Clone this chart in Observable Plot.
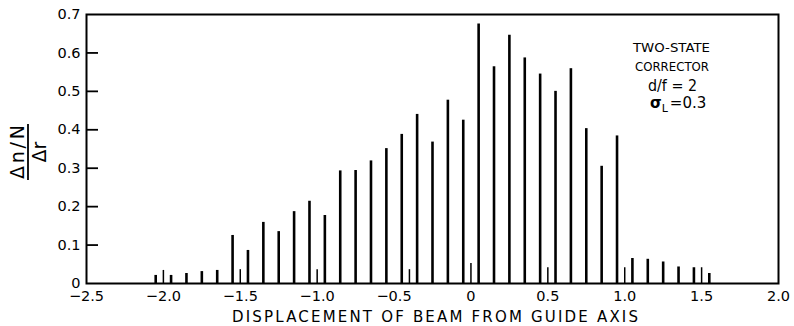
<!DOCTYPE html>
<html>
<head>
<meta charset="utf-8">
<script src="https://cdn.jsdelivr.net/npm/d3@7"></script>
<script src="https://cdn.jsdelivr.net/npm/@observablehq/plot@0.6"></script>
<style>
  html, body { margin: 0; padding: 0; background: #fff; }
  #chart svg { display: block; }
</style>
</head>
<body>
<div id="chart"></div>
<script>
// Main (thick) bars: displacement centres and Δn/N/Δr values
const mainX = [-2.05, -1.95, -1.85, -1.75, -1.65, -1.55, -1.45, -1.35, -1.25, -1.15, -1.05, -0.95,
               -0.85, -0.75, -0.65, -0.55, -0.45, -0.35, -0.25, -0.15, -0.05, 0.05, 0.15, 0.25,
               0.35, 0.45, 0.55, 0.65, 0.75, 0.85, 0.95, 1.05, 1.15, 1.25, 1.35, 1.45, 1.55];
const mainY = [0.021, 0.021, 0.026, 0.031, 0.034, 0.125, 0.086, 0.159, 0.135, 0.187, 0.214, 0.177,
               0.293, 0.294, 0.319, 0.351, 0.388, 0.440, 0.368, 0.477, 0.425, 0.675, 0.564, 0.646,
               0.587, 0.545, 0.500, 0.559, 0.403, 0.305, 0.384, 0.065, 0.063, 0.056, 0.043, 0.041, 0.026];
// Thin secondary bars
const thinX = [-2.0, -1.5, -1.0, -0.4, 0.0, 0.5, 1.0, 1.5];
const thinY = [0.034, 0.036, 0.036, 0.036, 0.052, 0.041, 0.041, 0.041];
// Ticks
const xTicks = [-2.5, -2.0, -1.5, -1.0, -0.5, 0, 0.5, 1.0, 1.5, 2.0];
const yTicks = [0, 0.1, 0.2, 0.3, 0.4, 0.5, 0.6, 0.7];
const yInnerTicks = [0.1, 0.2, 0.3, 0.4, 0.5, 0.6];
// Texts
const xTitle = "DISPLACEMENT OF BEAM FROM GUIDE AXIS";
const noteLines = ["TWO-STATE", "CORRECTOR"];
const noteRatio = "d/f = 2";
const noteSigma = ["σ", "L", "=0.3"];
const yNum = "Δn/N";
const yDen = "Δr";

const mainData = mainX.map((x, i) => ({x, y: mainY[i]}));
const thinData = thinX.map((x, i) => ({x, y: thinY[i]}));

const fmtX = d => d === 0 ? "0" : (d < 0 ? "\u2212" : "") + Math.abs(d).toFixed(1);
const fmtY = d => d === 0 ? "0" : d.toFixed(1);

const W = 794, H = 326, ML = 86, MR = 16;
const xDomain = [-2.5, 2.0];
const tickLen = 12;
const tickEnd = xDomain[0] + tickLen * (xDomain[1] - xDomain[0]) / (W - ML - MR);

const chart = Plot.plot({
  width: W,
  height: H,
  marginLeft: ML,
  marginRight: MR,
  marginTop: 14,
  marginBottom: 43,
  x: {domain: xDomain},
  y: {domain: [0, 0.7]},
  style: {fontFamily: "DejaVu Sans", fontSize: "14.5px", background: "white", color: "black"},
  marks: [
    Plot.ruleX(mainData, {x: "x", y1: 0, y2: "y", strokeWidth: 2.6, stroke: "black"}),
    Plot.ruleX(thinData, {x: "x", y1: 0, y2: "y", strokeWidth: 1.5, stroke: "black"}),
    Plot.frame({strokeWidth: 2, stroke: "black"}),
    Plot.ruleY(yInnerTicks, {y: d => d, x1: xDomain[0], x2: tickEnd, strokeWidth: 1.8, stroke: "black"}),
    Plot.axisY(yTicks, {tickSize: 0, tickPadding: 6, tickFormat: fmtY, label: null}),
    Plot.axisX(xTicks, {tickSize: 0, tickPadding: 7, tickFormat: fmtX, label: null})
  ]
});

document.getElementById("chart").appendChild(chart);

// Extra texts
const svg = d3.select(chart);
const font = "DejaVu Sans";

svg.append("text")
  .attr("x", 435).attr("y", 322)
  .attr("text-anchor", "middle")
  .attr("font-family", font).attr("font-size", 15)
  .attr("textLength", 406).attr("lengthAdjust", "spacing")
  .attr("fill", "black")
  .text(xTitle);

// Note in upper right
svg.append("text").attr("x", 671.5).attr("y", 52)
  .attr("text-anchor", "middle").attr("font-family", font).attr("font-size", 13)
  .attr("textLength", 77).attr("lengthAdjust", "spacingAndGlyphs")
  .attr("fill", "black").text(noteLines[0]);
svg.append("text").attr("x", 672).attr("y", 70.5)
  .attr("text-anchor", "middle").attr("font-family", font).attr("font-size", 13)
  .attr("textLength", 74).attr("lengthAdjust", "spacingAndGlyphs")
  .attr("fill", "black").text(noteLines[1]);
svg.append("text").attr("x", 672.5).attr("y", 91)
  .attr("text-anchor", "middle").attr("font-family", font).attr("font-size", 16)
  .attr("textLength", 49).attr("lengthAdjust", "spacingAndGlyphs")
  .attr("fill", "black").text(noteRatio);
const sig = svg.append("text").attr("x", 650).attr("y", 108)
  .attr("text-anchor", "start")
  .attr("font-family", font).attr("font-size", 15).attr("fill", "black");
sig.append("tspan").attr("font-weight", "bold").text(noteSigma[0]);
sig.append("tspan").attr("font-size", 11).attr("dy", 4).text(noteSigma[1]);
sig.append("tspan").attr("dy", -4).attr("dx", 2).text(noteSigma[2]);

// Y-axis label as a rotated fraction
const g = svg.append("g").attr("transform", "translate(28,152) rotate(-90)");
g.append("text").attr("x", 0).attr("y", -4)
  .attr("text-anchor", "middle").attr("font-family", font).attr("font-size", 19)
  .attr("textLength", 54).attr("lengthAdjust", "spacing")
  .attr("fill", "black").text(yNum);
g.append("line").attr("x1", -28).attr("x2", 28).attr("y1", 0).attr("y2", 0)
  .attr("stroke", "black").attr("stroke-width", 1.8);
g.append("text").attr("x", 0).attr("y", 18)
  .attr("text-anchor", "middle").attr("font-family", font).attr("font-size", 19)
  .attr("fill", "black").text(yDen);
</script>
</body>
</html>
